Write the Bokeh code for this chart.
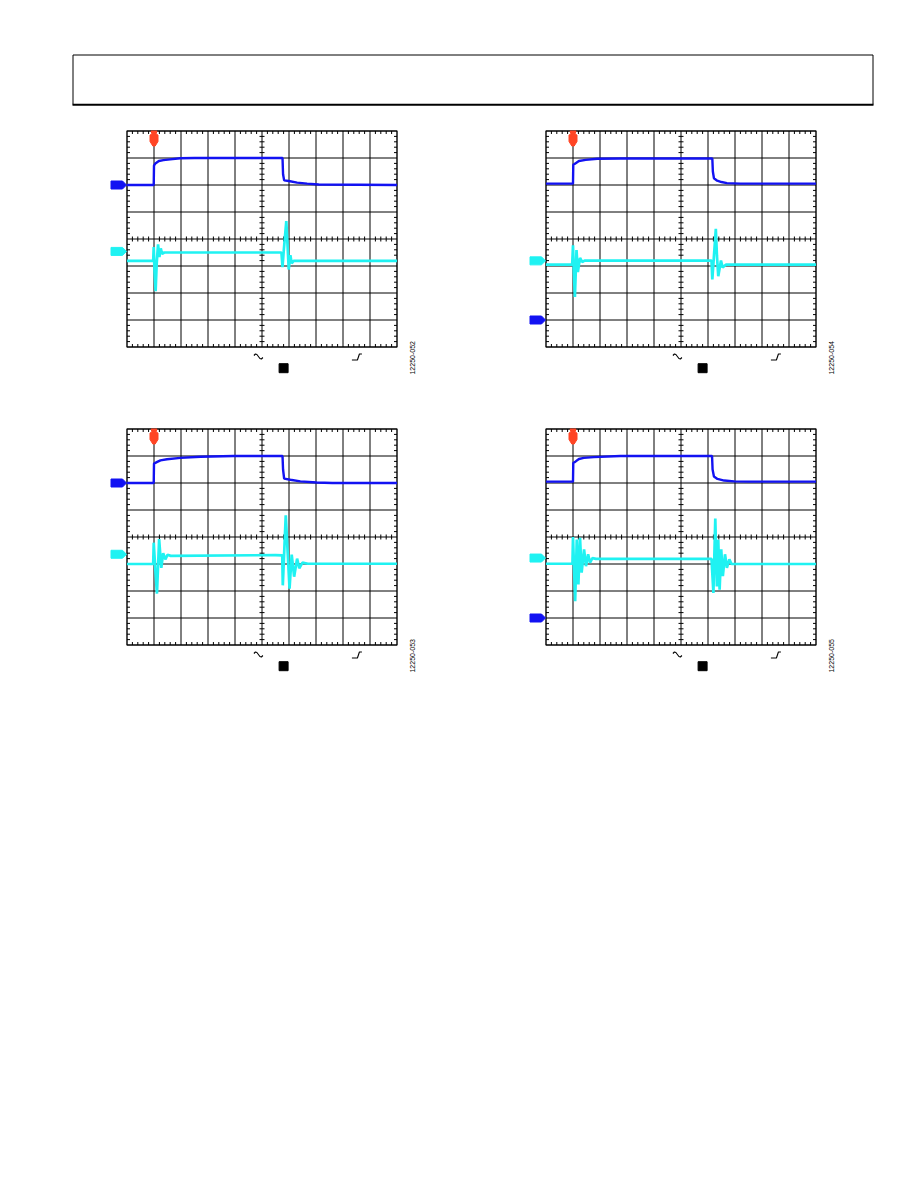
import numpy as np
from bokeh.plotting import figure
from bokeh.layouts import column, row
from bokeh.models import Spacer, Range1d
from bokeh.embed import file_html
from bokeh.resources import INLINE
from bokeh.core.properties import value

# ---------------- data (divisions: x 0..10, y -4..4) ----------------
P1_BLUE_X = [0, 0.99, 1.0, 1.05, 1.18, 1.35, 1.6, 1.97, 2.5, 5.76, 5.78, 5.82, 5.99, 6.3, 6.67, 7.1, 10]
P1_BLUE_Y = [2.0, 2.0, 2.72, 2.8, 2.89, 2.92, 2.95, 2.99, 3.0, 3.0, 2.4, 2.17, 2.15, 2.09, 2.05, 2.02, 2.0]
P1_CYAN_X = [0, 0.97, 0.99, 1.02, 1.06, 1.1, 1.15, 1.2, 1.25, 1.3, 1.38, 5.72, 5.76, 5.8, 5.9, 5.95, 5.99, 6.05, 6.1, 6.17, 10]
P1_CYAN_Y = [-0.81, -0.81, -0.3, -1.2, -1.93, -0.9, -0.2, -0.67, -0.35, -0.55, -0.5, -0.5, -1.04, -0.5, 0.66, -0.3, -1.13, -0.6, -0.9, -0.81, -0.81]

P2_BLUE_X = [0, 1.0, 1.01, 1.1, 1.22, 1.47, 1.9, 2.77, 6.16, 6.18, 6.22, 6.34, 6.5, 6.7, 7.2, 10]
P2_BLUE_Y = [2.05, 2.05, 2.75, 2.81, 2.89, 2.93, 2.97, 2.98, 2.98, 2.5, 2.25, 2.16, 2.11, 2.07, 2.05, 2.05]
P2_CYAN_X = [0, 0.97, 1.0, 1.03, 1.07, 1.13, 1.18, 1.26, 1.34, 1.43, 6.13, 6.16, 6.29, 6.33, 6.38, 6.48, 6.54, 6.67, 10]
P2_CYAN_Y = [-0.95, -0.95, -0.23, -1.2, -2.15, -0.41, -1.22, -0.7, -0.85, -0.8, -0.8, -1.5, 0.38, -0.6, -1.38, -0.8, -1.05, -0.95, -0.95]

P3_BLUE_X = [0, 0.99, 1.0, 1.12, 1.24, 1.48, 1.98, 2.72, 3.95, 5.76, 5.78, 5.82, 6.05, 6.42, 7.03, 7.6, 10]
P3_BLUE_Y = [2.0, 2.0, 2.72, 2.78, 2.84, 2.88, 2.93, 2.97, 3.0, 3.0, 2.5, 2.16, 2.12, 2.06, 2.02, 2.0, 2.0]
P3_CYAN_X = [0, 0.97, 0.99, 1.05, 1.11, 1.19, 1.27, 1.34, 1.42, 1.5, 1.62, 5.5, 5.75, 5.77, 5.88, 6.02, 6.1, 6.19, 6.3, 6.38, 6.5, 6.7, 10]
P3_CYAN_Y = [-1.0, -1.0, -0.21, -1.23, -2.1, -0.08, -1.14, -0.6, -0.83, -0.66, -0.7, -0.67, -0.68, -1.79, 0.8, -1.91, -0.65, -1.47, -0.8, -1.16, -0.95, -0.99, -0.99]

P4_BLUE_X = [0, 1.0, 1.01, 1.1, 1.22, 1.4, 1.77, 2.75, 6.15, 6.17, 6.22, 6.35, 6.6, 6.97, 7.5, 10]
P4_BLUE_Y = [2.05, 2.05, 2.74, 2.8, 2.89, 2.93, 2.96, 3.0, 3.0, 2.5, 2.24, 2.15, 2.09, 2.06, 2.05, 2.05]
P4_CYAN_X = [0, 0.98, 1.0, 1.08, 1.14, 1.2, 1.26, 1.32, 1.41, 1.48, 1.56, 1.63, 1.72, 1.85, 6.13, 6.2, 6.27, 6.33, 6.38, 6.43, 6.49, 6.55, 6.63, 6.7, 6.79, 6.87, 10]
P4_CYAN_Y = [-0.99, -0.99, 0.0, -2.38, -0.09, -1.76, -0.03, -1.32, -0.46, -1.08, -0.64, -0.95, -0.78, -0.81, -0.81, -2.07, 0.68, -1.83, -0.1, -1.95, -0.46, -1.45, -0.64, -1.14, -0.83, -1.0, -1.0]

BLUE_MARKS = [2.0, -3.0, 2.0, -3.0]
CYAN_MARKS = [-0.46, -0.81, -0.64, -0.78]
TRIGGER_X = [1.0, 1.0, 1.0, 1.0]
FIG_IDS = ["12250-052", "12250-054", "12250-053", "12250-055"]

# ---------------- styling / layout ----------------
BLUE = "#1212f2"
CYAN = "#1ff2f2"
RED = "#ff4524"
PX = 27.0
FIG_W, FIG_H = 320, 258
PAD_L, PAD_T = 26.5, 10.5


def px(v):
    return np.asarray(v, dtype=float) / PX


def make_scope(bx, by, cx, cy, blue_mark, cyan_mark, trig, fig_id):
    x0 = -PAD_L / PX
    x1 = x0 + FIG_W / PX
    y1 = 4 + PAD_T / PX
    y0 = y1 - FIG_H / PX
    p = figure(width=FIG_W, height=FIG_H, x_range=Range1d(x0, x1), y_range=Range1d(y0, y1),
               output_backend="svg", toolbar_location=None, min_border=0,
               x_axis_location=None, y_axis_location=None, outline_line_color=None,
               title=None, background_fill_color="white", border_fill_color="white")
    p.grid.grid_line_color = None

    # graticule
    gx = np.arange(1, 10)
    gy = np.arange(-3, 4)
    p.segment(x0=gx, y0=np.full(gx.shape, -4.0), x1=gx, y1=np.full(gx.shape, 4.0),
              line_color="black", line_width=1)
    p.segment(x0=np.zeros(gy.shape), y0=gy, x1=np.full(gy.shape, 10.0), y1=gy,
              line_color="black", line_width=1)
    p.quad(left=[0], right=[10], bottom=[-4], top=[4], fill_color=None,
           line_color="black", line_width=1.4)

    tx = np.array([v for v in np.round(np.arange(0, 10.001, 0.2), 3) if abs(v - round(v)) > 1e-6])
    ty = np.array([v for v in np.round(np.arange(-4, 4.001, 0.2), 3) if abs(v - round(v)) > 1e-6])
    tl = float(px(3))
    cl = float(px(2.5))
    # border ticks
    p.segment(x0=tx, y0=np.full(tx.shape, -4.0), x1=tx, y1=np.full(tx.shape, -4.0 + tl), line_color="black", line_width=1)
    p.segment(x0=tx, y0=np.full(tx.shape, 4.0), x1=tx, y1=np.full(tx.shape, 4.0 - tl), line_color="black", line_width=1)
    p.segment(x0=np.zeros(ty.shape), y0=ty, x1=np.full(ty.shape, tl), y1=ty, line_color="black", line_width=1)
    p.segment(x0=np.full(ty.shape, 10.0), y0=ty, x1=np.full(ty.shape, 10.0 - tl), y1=ty, line_color="black", line_width=1)
    # centre-line ticks
    p.segment(x0=np.full(ty.shape, 5.0 - cl), y0=ty, x1=np.full(ty.shape, 5.0 + cl), y1=ty, line_color="black", line_width=1)
    p.segment(x0=tx, y0=np.full(tx.shape, -cl), x1=tx, y1=np.full(tx.shape, cl), line_color="black", line_width=1)

    # traces
    p.line(cx, cy, line_color=CYAN, line_width=2.7)
    p.line(bx, by, line_color=BLUE, line_width=2.4)

    # channel markers (left)
    def chan_marker(yv, color):
        xs = px([-16, -4.5, -0.5, -4.5, -16])
        ys = yv + px([4, 4, 0, -4, -4])
        p.patch(xs, ys, fill_color=color, line_color=color, line_width=1)

    chan_marker(blue_mark, BLUE)
    chan_marker(cyan_mark, CYAN)

    # trigger marker (top)
    dx = np.array([-3, 3, 2, 4, 4, 1.2, -1.2, -4, -4, -2])
    dy = np.array([0, 0, 3, 4, 10.5, 15, 15, 10.5, 4, 3])
    p.patch(trig + px(dx), 4 - px(dy), fill_color=RED, line_color=RED, line_width=1)

    # bottom symbols
    sx = 4.7 + px([0, 1.5, 3, 4.5, 6, 7.5, 9])
    sy = -4 - px([8.5, 7, 7.5, 9.5, 11.5, 12, 10.5])
    p.line(sx, sy, line_color="black", line_width=1.1)
    p.rect(x=[5.8], y=[-4 - 21.2 / PX], width=9 / PX, height=9 / PX,
           fill_color="black", line_color="black")
    stx = 8.33 + px([0, 5.5, 7.5, 10])
    sty = -4 - px([13, 13, 7, 7])
    p.line(stx, sty, line_color="black", line_width=1.1)

    # figure id
    p.text(x=[10.56], y=[-4.4], text=[fig_id], angle=np.pi / 2, text_font_size="7px",
           text_align="center", text_baseline="middle", text_color="black",
           text_font=value("Liberation Sans"))
    return p


panels = []
datasets = [
    (P1_BLUE_X, P1_BLUE_Y, P1_CYAN_X, P1_CYAN_Y),
    (P2_BLUE_X, P2_BLUE_Y, P2_CYAN_X, P2_CYAN_Y),
    (P3_BLUE_X, P3_BLUE_Y, P3_CYAN_X, P3_CYAN_Y),
    (P4_BLUE_X, P4_BLUE_Y, P4_CYAN_X, P4_CYAN_Y),
]
for i, (bx, by, cx, cy) in enumerate(datasets):
    panels.append(make_scope(bx, by, cx, cy, BLUE_MARKS[i], CYAN_MARKS[i], TRIGGER_X[i], FIG_IDS[i]))

# header box
hdr = figure(width=806, height=56, x_range=Range1d(0, 806), y_range=Range1d(56, 0),
             output_backend="svg", toolbar_location=None, min_border=0,
             x_axis_location=None, y_axis_location=None, outline_line_color=None, title=None)
hdr.grid.grid_line_color = None
hdr.line([2.5, 2.5, 802.5, 802.5], [52, 2.5, 2.5, 52], line_color="black", line_width=1)
hdr.line([2.0, 803.0], [52.2, 52.2], line_color="black", line_width=2)

layout = column(
    Spacer(height=52),
    row(Spacer(width=70), hdr),
    Spacer(height=12),
    row(Spacer(width=100), panels[0], Spacer(width=99), panels[1]),
    Spacer(height=40),
    row(Spacer(width=100), panels[2], Spacer(width=99), panels[3]),
)

open("out.html", "w").write(file_html(layout, INLINE))
